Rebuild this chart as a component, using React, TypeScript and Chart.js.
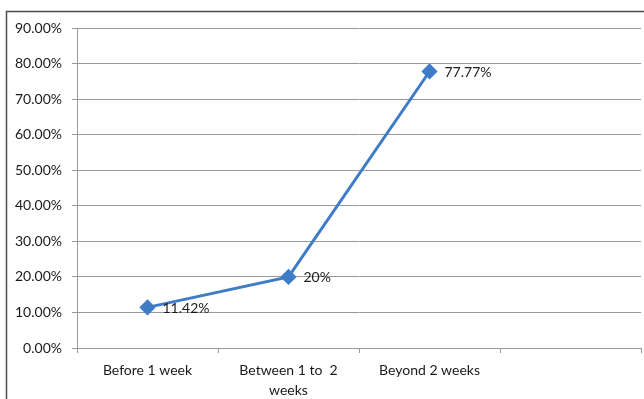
import React, { useEffect, useRef } from "react";
import { Chart, registerables } from "chart.js";

Chart.register(...registerables);

// Categories (the fourth slot on the axis is left empty)
const categories: (string | string[])[] = [
  "Before 1 week",
  ["Between 1 to  2", "weeks"],
  "Beyond 2 weeks",
  "",
];
// Share of cases per period, in percent
const shares: (number | null)[] = [11.42, 20, 77.77, null];
// Text shown beside each point
const pointLabels: string[] = ["11.42%", "20%", "77.77%"];

const FONT = "Lato, 'Open Sans', sans-serif";
const LINE_BLUE = "#3f7cc8";

const framePlugin = {
  id: "frame",
  beforeDraw(chart: Chart) {
    const ctx = chart.ctx;
    ctx.save();
    ctx.strokeStyle = "#4d4d4d";
    ctx.lineWidth = 1.5;
    ctx.beginPath();
    ctx.moveTo(6.5, chart.height);
    ctx.lineTo(6.5, 11.5);
    ctx.lineTo(chart.width, 11.5);
    ctx.stroke();
    ctx.restore();
  },
};

const valueLabelPlugin = {
  id: "valueLabels",
  afterDatasetsDraw(chart: Chart) {
    const ctx = chart.ctx;
    const meta = chart.getDatasetMeta(0);
    ctx.save();
    ctx.font = `14px ${FONT}`;
    ctx.fillStyle = "#1a1a1a";
    ctx.textAlign = "left";
    ctx.textBaseline = "middle";
    meta.data.forEach((pt: any, i: number) => {
      if (shares[i] == null || !pointLabels[i]) return;
      ctx.fillText(pointLabels[i], pt.x + 15, pt.y + 1);
    });
    ctx.restore();
  },
};

export default function App() {
  const ref = useRef<HTMLCanvasElement>(null);

  useEffect(() => {
    if (!ref.current) return;
    const chart = new Chart(ref.current, {
      type: "line",
      data: {
        labels: categories as any,
        datasets: [
          {
            data: shares,
            borderColor: LINE_BLUE,
            backgroundColor: LINE_BLUE,
            borderWidth: 3,
            pointStyle: "rectRot",
            pointRadius: 6,
            pointHoverRadius: 6,
            pointBackgroundColor: LINE_BLUE,
            pointBorderColor: LINE_BLUE,
            tension: 0,
            clip: false,
          },
        ],
      },
      options: {
        animation: false,
        responsive: false,
        maintainAspectRatio: false,
        layout: { autoPadding: false, padding: { left: 0, top: 28, right: 3, bottom: 0 } },
        plugins: {
          legend: { display: false },
          tooltip: { enabled: false },
        },
        scales: {
          x: {
            type: "category",
            offset: true,
            grid: {
              offset: true,
              drawOnChartArea: false,
              drawTicks: true,
              tickLength: 5,
              color: "#999999",
            },
            border: { color: "#999999", width: 1 },
            ticks: {
              font: { family: FONT, size: 14, lineHeight: 1.45 },
              color: "#1a1a1a",
              padding: 7,
              maxRotation: 0,
              autoSkip: false,
            },
            afterFit(scale: any) {
              scale.height = 399 - 348;
              scale.paddingLeft = 0;
              scale.paddingRight = 0;
            },
          },
          y: {
            min: 0,
            max: 90,
            ticks: {
              stepSize: 10,
              font: { family: FONT, size: 14 },
              color: "#1a1a1a",
              padding: 10,
              callback: (v: any) => `${Number(v).toFixed(2)}%`,
            },
            grid: { color: "#999999", tickLength: 5, lineWidth: 1 },
            border: { color: "#999999", width: 1 },
            afterFit(scale: any) {
              scale.width = 77;
            },
          },
        },
      },
      plugins: [framePlugin, valueLabelPlugin],
    });
    return () => chart.destroy();
  }, []);

  return (
    <div style={{ position: "fixed", left: 0, top: 0, width: 644, height: 399, background: "#fff" }}>
      <canvas ref={ref} width={644} height={399} style={{ display: "block" }} />
    </div>
  );
}
